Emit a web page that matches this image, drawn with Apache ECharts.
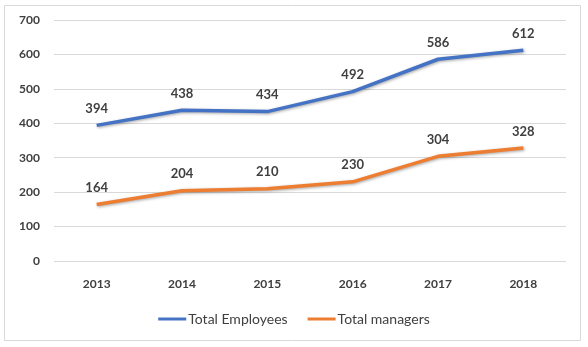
<!DOCTYPE html>
<html><head><meta charset="utf-8">
<script src="https://cdn.jsdelivr.net/npm/echarts@6/dist/echarts.min.js"></script>
<style>html,body{margin:0;padding:0;background:#fff}#c{width:588px;height:347px}</style>
</head><body><div id="c"></div>
<script>
const categories = ['2013','2014','2015','2016','2017','2018'];
const employees = [394, 438, 434, 492, 586, 612];
const managers = [164, 204, 210, 230, 304, 328];
const yTicks = {min:0, max:700, interval:100};
const font = 'Lato, "Open Sans", sans-serif';
const chart = echarts.init(document.getElementById('c'), null, {renderer:'canvas'});
const lineSeries = (name, data, color) => ({
  name, type:'line', data, symbol:'circle', symbolSize:0.01, showSymbol:true,
  lineStyle:{color, width:3.5, shadowColor:'rgba(0,0,0,0.35)', shadowBlur:3, shadowOffsetX:1, shadowOffsetY:1},
  itemStyle:{color},
  label:{show:true, position:'top', distance:10, color:'#404040', fontWeight:'bold', fontSize:13, fontFamily:font}
});
chart.setOption({
  animation:false,
  graphic:[{type:'rect', shape:{x:4.5,y:5.5,width:576,height:335}, style:{fill:'none', stroke:'#d9d9d9', lineWidth:1}}],
  grid:{left:54, right:22, top:20, bottom:86},
  legend:{bottom:16, left:'center', itemWidth:28, itemHeight:3, itemGap:20,
    icon:'rect',
    textStyle:{color:'#404040', fontSize:14, fontFamily:font, padding:[0,0,0,-3]},
    data:['Total Employees','Total managers']},
  xAxis:{type:'category', data:categories, boundaryGap:true,
    axisLine:{show:false}, axisTick:{show:false},
    axisLabel:{color:'#404040', fontWeight:'bold', fontSize:12, fontFamily:font, margin:17}},
  yAxis:{type:'value', min:yTicks.min, max:yTicks.max, interval:yTicks.interval,
    axisLine:{show:false}, axisTick:{show:false},
    splitLine:{lineStyle:{color:'#d9d9d9', width:1}},
    axisLabel:{color:'#404040', fontWeight:'bold', fontSize:12, fontFamily:font, margin:14}},
  series:[lineSeries('Total Employees', employees, '#4472C4'), lineSeries('Total managers', managers, '#ED7D31')]
});
</script></body></html>
